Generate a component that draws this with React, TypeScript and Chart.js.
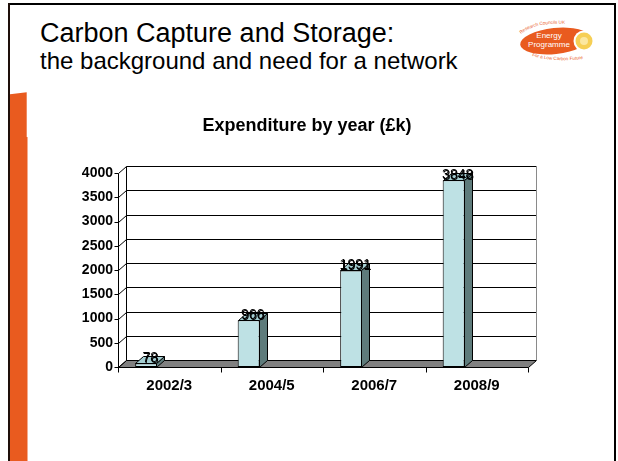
import React, { useEffect, useRef } from 'react';
import { Chart, registerables } from 'chart.js';

Chart.register(...registerables);

// ---- data ----
const categories = ['2002/3', '2004/5', '2006/7', '2008/9'];
const expenditure = [78, 966, 1991, 3848];
const yTickValues = [0, 500, 1000, 1500, 2000, 2500, 3000, 3500, 4000];
const chartTitle = 'Expenditure by year (£k)';
const slideTitle = 'Carbon Capture and Storage:';
const slideSubtitle = 'the background and need for a network';

// ---- styling ----
const DX = 8;
const DY = 7;
const FONT = 'Arial, "Liberation Sans", Helvetica, sans-serif';
const FRONT = '#BEE1E4';
const SIDE = '#5E7B7B';
const TOP = '#A4CED2';
const FLOOR = '#808080';
const ORANGE = '#E95B1F';

const line = (ctx: CanvasRenderingContext2D, x1: number, y1: number, x2: number, y2: number) => {
  ctx.beginPath();
  ctx.moveTo(x1, y1);
  ctx.lineTo(x2, y2);
  ctx.stroke();
};

const threeD = {
  id: 'threeD',
  beforeDatasetsDraw(chart: any) {
    const { ctx, chartArea, scales } = chart;
    const L = Math.round(chartArea.left) + 0.5;
    const R = Math.round(chartArea.right) + 0.5;
    const B = Math.round(scales.y.getPixelForValue(yTickValues[0])) + 0.5;
    const T = Math.round(scales.y.getPixelForValue(yTickValues[yTickValues.length - 1])) + 0.5;
    ctx.save();
    ctx.lineWidth = 1;
    // floor
    ctx.fillStyle = FLOOR;
    ctx.strokeStyle = '#000';
    ctx.beginPath();
    ctx.moveTo(L, B);
    ctx.lineTo(R, B);
    ctx.lineTo(R + DX, B - DY);
    ctx.lineTo(L + DX, B - DY);
    ctx.closePath();
    ctx.fill();
    ctx.stroke();
    // back wall gridlines, left wall diagonals and ticks
    yTickValues.forEach((v) => {
      const py = Math.round(scales.y.getPixelForValue(v)) + 0.5;
      ctx.strokeStyle = '#000';
      line(ctx, L + DX, py - DY, R + DX, py - DY);
      line(ctx, L, py, L + DX, py - DY);
      line(ctx, L - 4, py, L, py);
    });
    // wall edges
    line(ctx, L + DX, T - DY, L + DX, B - DY);
    line(ctx, L, T, L, B);
    ctx.strokeStyle = '#8a8a8a';
    line(ctx, R + DX, T - DY, R + DX, B - DY);
    // category ticks
    ctx.strokeStyle = '#000';
    const n = categories.length;
    for (let i = 0; i <= n; i++) {
      const px = Math.round(chartArea.left + ((chartArea.right - chartArea.left) * i) / n) + 0.5;
      line(ctx, px, B, px, B + 5);
    }
    ctx.restore();
  },
  afterDatasetsDraw(chart: any) {
    const { ctx } = chart;
    const meta = chart.getDatasetMeta(0);
    ctx.save();
    ctx.lineWidth = 1;
    ctx.strokeStyle = '#000';
    meta.data.forEach((bar: any, i: number) => {
      const { x, y, base, width } = bar.getProps(['x', 'y', 'base', 'width'], true);
      const l = Math.round(x - width / 2) + 0.5;
      const r = Math.round(x + width / 2) - 0.5;
      const t = Math.round(y) + 0.5;
      const b = Math.round(base) + 0.5;
      // side face
      ctx.fillStyle = SIDE;
      ctx.beginPath();
      ctx.moveTo(r, t);
      ctx.lineTo(r + DX, t - DY);
      ctx.lineTo(r + DX, b - DY);
      ctx.lineTo(r, b);
      ctx.closePath();
      ctx.fill();
      ctx.stroke();
      // top face
      ctx.fillStyle = TOP;
      ctx.beginPath();
      ctx.moveTo(l, t);
      ctx.lineTo(l + DX, t - DY);
      ctx.lineTo(r + DX, t - DY);
      ctx.lineTo(r, t);
      ctx.closePath();
      ctx.fill();
      ctx.stroke();
      // value label (slightly double-struck like the original)
      ctx.fillStyle = '#000';
      ctx.font = `14px ${FONT}`;
      ctx.textAlign = 'center';
      ctx.textBaseline = 'alphabetic';
      ctx.fillText(String(expenditure[i]), x + DX / 2, y - 1);
      ctx.fillText(String(expenditure[i]), x + DX / 2 + 0.7, y - 0.3);
    });
    ctx.restore();
  },
};

function ChartCanvas() {
  const ref = useRef<HTMLCanvasElement | null>(null);
  useEffect(() => {
    if (!ref.current) return;
    const chart = new Chart(ref.current, {
      type: 'bar',
      data: {
        labels: categories,
        datasets: [
          {
            data: expenditure,
            backgroundColor: FRONT,
            borderColor: '#000',
            borderWidth: 1,
            borderSkipped: false,
            categoryPercentage: 0.9,
            barPercentage: 1,
            maxBarThickness: 22,
          },
          {
            // empty spacer slot (the 3D column sits left of the category centre)
            data: categories.map(() => null),
            backgroundColor: 'rgba(0,0,0,0)',
            categoryPercentage: 0.9,
            barPercentage: 1,
            maxBarThickness: 22,
          },
        ],
      },
      options: {
        responsive: false,
        animation: false,
        devicePixelRatio: 1,
        layout: { padding: { left: 0, right: 4, top: 0, bottom: 0 } },
        plugins: {
          legend: { display: false },
          tooltip: { enabled: false },
          title: {
            display: true,
            text: chartTitle,
            color: '#000',
            font: { family: FONT, size: 18, weight: 'bold' },
            padding: { top: 115, bottom: 36.4 },
          },
        },
        scales: {
          x: {
            type: 'category',
            grid: { display: false, drawTicks: false },
            border: { display: false },
            ticks: { color: '#000', font: { family: FONT, size: 15, weight: 'bold' }, padding: 10, maxRotation: 0 },
            afterFit: (s: any) => {
              s.height = 94;
            },
          },
          y: {
            position: 'left',
            min: yTickValues[0],
            max: yTickValues[yTickValues.length - 1],
            afterBuildTicks: (s: any) => {
              s.ticks = yTickValues.map((v) => ({ value: v }));
            },
            grid: { display: false, drawTicks: false },
            border: { display: false },
            ticks: {
              color: '#000',
              font: { family: FONT, size: 14, weight: 'bold' },
              padding: 5,
              callback: (v: any) => String(v),
            },
            afterFit: (s: any) => {
              s.width = 118;
            },
          },
          yRight: {
            type: 'linear',
            position: 'right',
            grid: { display: false, drawTicks: false },
            border: { display: false },
            ticks: { display: false },
            afterFit: (s: any) => {
              s.width = 86;
            },
          },
        },
      } as any,
      plugins: [threeD],
    });
    return () => chart.destroy();
  }, []);
  return (
    <canvas
      ref={ref}
      width={618}
      height={461}
      style={{ position: 'absolute', left: 0, top: 0, width: 618, height: 461, display: 'block' }}
    />
  );
}

function Slide() {
  return (
    <svg
      width={618}
      height={461}
      style={{ position: 'absolute', left: 0, top: 0 }}
      xmlns="http://www.w3.org/2000/svg"
    >
      {/* frame */}
      <rect x={8} y={3} width={608} height={2} fill="#000" />
      <rect x={8} y={3} width={2} height={458} fill="#1e0f0a" />
      <rect x={614} y={3} width={2} height={458} fill="#000" />
      {/* orange side strip */}
      <polygon points="10,94.3 26.7,92.3 26.7,137 27.5,137 27.5,461 10,461" fill={ORANGE} />
      {/* headings */}
      <text x={40} y={41.5} fontFamily={FONT} fontSize={27} fill="#000">
        {slideTitle}
      </text>
      <text x={40} y={68.5} fontFamily={FONT} fontSize={24} fill="#000">
        {slideSubtitle}
      </text>
      {/* logo */}
      <g transform="rotate(-6 555 41)">
        <ellipse cx={555} cy={41} rx={35} ry={13} fill={ORANGE} />
      </g>
      <circle cx={584} cy={41} r={10.5} fill="#fff" />
      <circle cx={584} cy={41} r={8.5} fill="#F6CF55" />
      <circle cx={584} cy={41} r={4} fill="#FBE7A0" />
      <text x={549} y={38} fontFamily={FONT} fontSize={8} fill="#fff" textAnchor="middle">
        Energy
      </text>
      <text x={549} y={47} fontFamily={FONT} fontSize={8} fill="#fff" textAnchor="middle">
        Programme
      </text>
      <path id="logoArcTop" d="M 521 34 Q 535 22 566 24" fill="none" />
      <text fontFamily={FONT} fontSize={4.6} fill={ORANGE}>
        <textPath href="#logoArcTop">Research Councils UK</textPath>
      </text>
      <path id="logoArcBottom" d="M 532 56 Q 560 64 593 57" fill="none" />
      <text fontFamily={FONT} fontSize={4.6} fill={ORANGE}>
        <textPath href="#logoArcBottom">For a Low Carbon Future</textPath>
      </text>
    </svg>
  );
}

export default function App() {
  return (
    <div
      style={{
        position: 'fixed',
        left: 0,
        top: 0,
        width: 618,
        height: 461,
        background: '#fff',
        overflow: 'hidden',
      }}
    >
      <Slide />
      <ChartCanvas />
    </div>
  );
}
